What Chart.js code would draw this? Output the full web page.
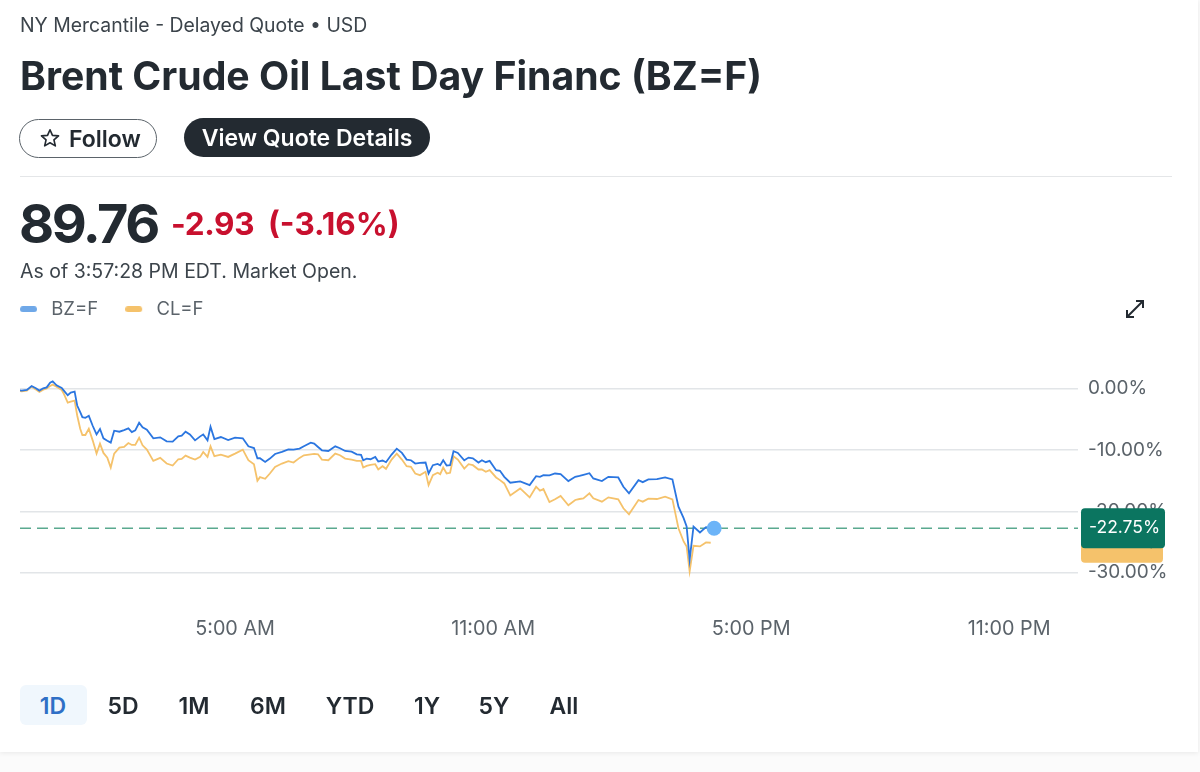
<!DOCTYPE html>
<html><head><meta charset="utf-8">
<script src="https://cdn.jsdelivr.net/npm/chart.js@4"></script>
<style>
html,body{margin:0;padding:0;width:1200px;height:772px;overflow:hidden;background:#fbfbfb;font-family:Inter,"Noto Sans",sans-serif;color:#232a31}
#card{position:absolute;left:0;top:0;width:1198px;height:752px;background:#fff;box-shadow:0 1px 5px rgba(0,0,0,.08)}
#chart{position:absolute;left:0;top:0}
.t{position:absolute;white-space:nowrap}
.range{position:absolute;top:692px;font-size:23px;font-weight:600;line-height:28px;transform:translateX(-50%)}
</style></head><body>
<div id="card"></div>
<canvas id="chart" width="1200" height="772"></canvas>
<div class="t" style="left:20px;top:14px;font-size:19.4px;line-height:22px;color:#3c444b">NY Mercantile - Delayed Quote • USD</div>
<div class="t" style="left:20px;top:51px;font-size:39.2px;line-height:50px;font-weight:700">Brent Crude Oil Last Day Financ (BZ=F)</div>
<div class="t" style="left:19px;top:119px;width:136px;height:37px;border:1px solid #5b636a;border-radius:20px"></div>
<svg class="t" style="left:39px;top:127px" width="22" height="22" viewBox="0 0 24 24"><path d="M12 3l2.7 6.1 6.6.6-5 4.4 1.5 6.5L12 17.2l-5.8 3.4 1.5-6.5-5-4.4 6.6-.6z" fill="none" stroke="#232a31" stroke-width="1.8" stroke-linejoin="round"/></svg>
<div class="t" style="left:69px;top:125px;font-size:23px;line-height:28px;font-weight:600">Follow</div>
<div class="t" style="left:184px;top:118px;width:246px;height:39px;background:#232a31;border-radius:20px;color:#fff;font-size:23px;line-height:40px;font-weight:600;text-align:center">View Quote Details</div>
<div class="t" style="left:20px;top:176px;width:1152px;height:1px;background:#e4e6e8"></div>
<div class="t" style="left:19px;top:191px;font-size:54px;line-height:66px;font-weight:700;letter-spacing:-2.4px">89.76</div>
<div class="t" style="left:171px;top:205px;font-size:31.5px;line-height:38px;font-weight:700;color:#c8102e;letter-spacing:-.3px">-2.93</div>
<div class="t" style="left:268px;top:205px;font-size:31.5px;line-height:38px;font-weight:700;color:#c8102e">(-3.16%)</div>
<div class="t" style="left:20px;top:260px;font-size:19.5px;line-height:22px;color:#3c444b">As of 3:57:28 PM EDT. Market Open.</div>
<svg class="t" style="left:1124px;top:298px" width="22" height="22" viewBox="0 0 22 22"><path d="M3 19L19 3M12 3h7v7M3 12v7h7" fill="none" stroke="#232a31" stroke-width="2"/></svg>
<div class="t" style="left:20px;top:685px;width:67px;height:40px;background:#f0f7fd;border-radius:6px"></div>
<div class="range" style="left:53px;color:#2f6fc6">1D</div>
<div class="range" style="left:123px">5D</div>
<div class="range" style="left:194px">1M</div>
<div class="range" style="left:268px">6M</div>
<div class="range" style="left:350px">YTD</div>
<div class="range" style="left:427px">1Y</div>
<div class="range" style="left:494px">5Y</div>
<div class="range" style="left:564px">All</div>
<script>
const hours=[0,0.04,0.16,0.27,0.37,0.45,0.54,0.62,0.70,0.76,0.85,0.97,1.02,1.11,1.18,1.27,1.33,1.40,1.45,1.52,1.60,1.69,1.78,1.86,1.94,2.03,2.11,2.19,2.31,2.42,2.52,2.60,2.68,2.77,2.85,2.95,3.10,3.26,3.41,3.55,3.68,3.76,3.85,3.95,4.07,4.19,4.26,4.36,4.43,4.52,4.67,4.84,5.00,5.18,5.31,5.44,5.52,5.58,5.70,5.81,5.93,6.09,6.24,6.36,6.50,
6.60,6.76,6.84,6.93,7.02,7.17,7.33,7.44,7.56,7.71,7.83,7.93,7.98,8.06,8.15,8.26,8.33,8.43,8.51,8.64,8.76,8.88,8.99,9.09,9.19,9.30,9.43,9.50,9.60,9.71,9.77,9.84,9.92,10.0,10.08,10.18,10.33,10.43,10.53,10.66,10.74,10.83,10.92,11.07,11.16,11.26,11.40,11.63,11.85,12.00,12.09,12.17,12.31,12.44,12.57,12.75,12.91,13.01,
13.10,13.24,13.33,13.53,13.68,13.91,14.03,14.16,14.38,14.48,14.61,14.81,15.00,15.17,15.31,15.43,15.50,15.57,15.66,15.81,15.95,16.06,16.14];
const bzPct=[-0.3,-0.32,-0.2,0.43,0.05,-0.32,0.05,0.2,0.97,1.19,0.54,0.1,-0.32,-1.08,-0.65,-0.49,-2.75,-3.84,-4.65,-4.75,-4.43,-6.05,-7.46,-6.59,-8.1,-8.48,-8.8,-6.86,-7.02,-6.75,-6.48,-7.08,-6.8,-5.56,-6.32,-6.7,-8.1,-7.94,-8.59,-8.64,-7.78,-7.67,-7.02,-7.46,-8.43,-7.78,-7.46,-8.43,-6.21,-8.22,-7.89,-8.38,-7.99,-8.1,-9.4,-9.68,-11.35,-11.35,-11.94,-11.4,-10.65,-10.32,-9.89,-9.94,-9.78,
-9.40,-8.81,-8.97,-9.51,-10.05,-10.16,-9.40,-9.72,-10.16,-10.26,-10.70,-10.80,-11.67,-11.40,-11.51,-11.13,-11.89,-11.72,-11.99,-10.75,-9.78,-10.48,-11.56,-11.67,-12.21,-12.10,-12.05,-13.83,-12.48,-12.26,-12.48,-11.67,-12.53,-12.48,-10.21,-10.48,-11.67,-11.24,-11.35,-12.05,-11.67,-11.99,-11.78,-13.29,-13.40,-14.37,-15.34,-15.13,-15.72,-14.26,-14.37,-14.10,-14.15,-13.83,-13.94,-15.07,-14.37,-14.21,
-14.05,-13.78,-14.64,-15.07,-14.37,-14.48,-15.99,-17.07,-14.91,-15.24,-14.80,-14.75,-14.48,-14.80,-19.23,-21.12,-22.48,-27.88,-22.48,-23.45,-22.58,-22.7,-22.75];
const clPct=[-0.4,-0.43,-0.32,0.32,-0.16,-0.54,-0.16,0.05,0.43,0.65,0.32,-0.22,-0.86,-2.27,-2.11,-1.94,-4.38,-6.54,-7.56,-7.56,-6.54,-8.43,-10.59,-8.97,-10.48,-11.24,-12.86,-10.59,-9.62,-9.51,-8.86,-9.18,-9.18,-8.0,-9.24,-9.94,-11.78,-11.29,-12.21,-12.53,-11.51,-11.45,-10.91,-11.24,-11.56,-11.13,-10.32,-11.13,-9.4,-11.02,-10.75,-11.13,-10.59,-9.94,-11.67,-12.32,-15.02,-14.43,-14.69,-13.83,-12.75,-12.21,-11.83,-12.05,-11.29,
-10.86,-10.70,-10.64,-10.70,-11.56,-11.67,-10.59,-10.86,-11.40,-11.56,-11.78,-11.78,-12.86,-12.59,-12.43,-12.32,-13.18,-12.64,-13.07,-11.56,-10.59,-11.56,-12.64,-12.75,-13.83,-14.10,-13.56,-15.72,-14.10,-13.72,-13.94,-12.86,-13.83,-13.72,-11.02,-11.56,-13.02,-12.32,-12.48,-13.18,-13.18,-13.56,-13.29,-14.48,-14.91,-15.45,-17.40,-16.26,-17.72,-15.99,-16.64,-16.37,-18.48,-18.04,-17.50,-19.02,-18.15,-17.99,
-17.88,-17.07,-17.88,-18.42,-17.72,-18.05,-19.50,-20.48,-18.15,-18.42,-17.94,-17.99,-17.61,-18.05,-22.75,-24.91,-25.72,-29.77,-25.61,-25.72,-25.07,-25.12,null];
const yTicks=[0,-10,-20,-30];
const xTicks=[5,11,17,23];
const xTickLabels=["5:00 AM","11:00 AM","5:00 PM","11:00 PM"];
const seriesNames=["BZ=F","CL=F"];
const baseline=[-22.75,-22.75];
const baselineHours=[0,24.6];
const lastLabels=["-22.75%","-25.12%"];

const FONT='Inter';
function swatch(c){const k=document.createElement('canvas');k.width=22;k.height=6;const x=k.getContext('2d');x.fillStyle=c;x.beginPath();x.roundRect(0,0,17,6,3);x.fill();return k;}
const swatches=[swatch('#6fa8e8'),swatch('#f5c26b')];

const tags={id:'tags',
 afterLayout(c){c.legend.left=-7;},
 afterDatasetsDraw(c){
  const g=c.ctx,y=c.scales.y;
  const by=y.getPixelForValue(baseline[0]);
  const cy=y.getPixelForValue(clPct[clPct.length-2]);
  g.save();
  g.font='17.5px '+FONT;g.textBaseline='middle';g.textAlign='left';
  g.fillStyle='#f5c26b';g.beginPath();g.roundRect(1081,cy-20,82,40,4);g.fill();
  g.fillStyle='#232a31';g.fillText(lastLabels[1],1089,cy);
  g.fillStyle='#0b7560';g.beginPath();g.roundRect(1081,by-20,84,40,4);g.fill();
  g.fillStyle='#fff';g.fillText(lastLabels[0],1089,by);
  g.restore();
 }};

new Chart(document.getElementById('chart'),{
 type:'line',
 plugins:[tags],
 data:{datasets:[
  {label:'base',data:baselineHours.map((h,i)=>({x:h,y:baseline[i]})),borderColor:'#5aa98f',borderWidth:1.5,borderDash:[11,6],pointRadius:0,order:3},
  {label:seriesNames[1],data:hours.map((h,i)=>({x:h,y:clPct[i]})),borderColor:'#f5c26b',borderWidth:1.8,pointRadius:0,order:2,spanGaps:false},
  {label:seriesNames[0],data:hours.map((h,i)=>({x:h,y:bzPct[i]})),borderColor:'#2b76e0',borderWidth:1.8,order:1,
   pointRadius:ctx=>ctx.dataIndex===hours.length-1?7.5:0,pointBackgroundColor:'#6cb4f8',pointBorderWidth:0,pointHoverRadius:0}
 ]},
 options:{
  responsive:false,animation:false,devicePixelRatio:1,
  layout:{padding:{top:273,left:20,right:0,bottom:110.9}},
  plugins:{tooltip:{enabled:false},
   legend:{position:'top',align:'start',
    labels:{usePointStyle:true,pointStyleWidth:22,padding:27,color:'#5b636a',font:{family:FONT,size:18.5},
     generateLabels(){return seriesNames.map((n,i)=>({text:n,pointStyle:swatches[i],fontColor:'#5b636a',lineWidth:0,datasetIndex:i===0?2:1}));}}}},
  scales:{
   x:{type:'linear',min:0,max:24.6,grid:{display:false},border:{display:false},
    afterBuildTicks(s){s.ticks=xTicks.map(v=>({value:v}));},
    afterFit(s){s.height=70;},
    ticks:{autoSkip:false,maxRotation:0,padding:18,color:'#5b636a',font:{family:FONT,size:19.8},
     callback:v=>xTickLabels[xTicks.indexOf(v)]}},
   y:{position:'right',min:-33,max:9.8,border:{display:false},
    grid:{color:'#e2e5e8',lineWidth:1.5,drawTicks:false},
    afterBuildTicks(s){s.ticks=yTicks.map(v=>({value:v}));},
    afterFit(s){s.width=122;},
    ticks:{padding:10,crossAlign:'near',color:'#5b636a',font:{family:FONT,size:19},
     callback:v=>v.toFixed(2)+'%'}}
  }
 }
});
</script>
</body></html>
